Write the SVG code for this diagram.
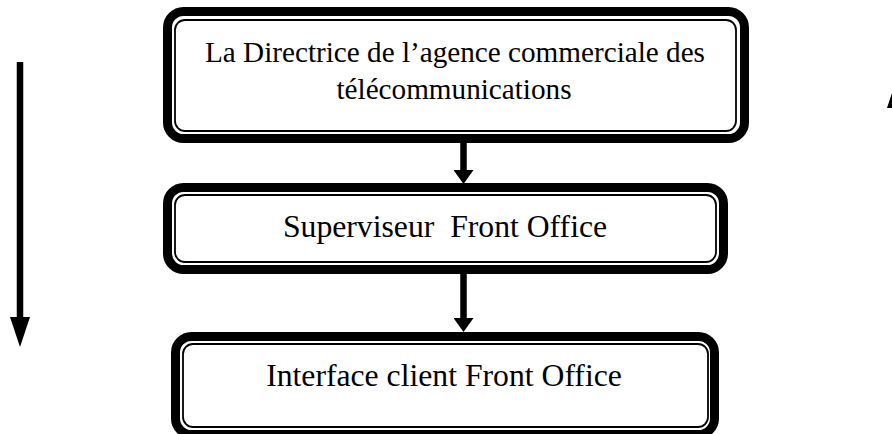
<svg xmlns="http://www.w3.org/2000/svg" width="892" height="434" viewBox="0 0 892 434">
<style>
  .thick { fill: #ffffff; stroke: #000000; stroke-width: 9; }
  .thin { fill: none; stroke: #000000; stroke-width: 1.8; }
  .lbl { font-family: "Liberation Serif", "Times New Roman", serif; fill: #000000; text-anchor: middle; white-space: pre; }
  .shaft { fill: none; stroke: #000000; stroke-width: 6.5; }
</style>
<defs>
  <marker id="headS" markerUnits="userSpaceOnUse" viewBox="0 0 14 20" markerWidth="14" markerHeight="20" refX="0" refY="10" orient="auto">
    <polygon points="0,0 14,10 0,20" fill="#000000"/>
  </marker>
  <marker id="headL" markerUnits="userSpaceOnUse" viewBox="0 0 30 20" markerWidth="30" markerHeight="20" refX="0" refY="10" orient="auto">
    <polygon points="0,0 30,10 0,20" fill="#000000"/>
  </marker>
</defs>
<rect width="892" height="434" fill="#ffffff"/>

<g id="connectors">
  <path class="shaft" d="M463.5 128 L463.5 170" marker-end="url(#headS)"/>
  <path class="shaft" d="M463.5 272 L463.5 318" marker-end="url(#headS)"/>
  <path class="shaft" d="M20 62 L20 317" marker-end="url(#headL)"/>
  <path class="shaft" d="M897 300 L897 108" marker-end="url(#headL)"/>
</g>

<g id="node-directrice">
  <rect class="thick" x="167.5" y="11.5" width="577" height="127" rx="16"/>
  <rect class="thin" x="175" y="20" width="561" height="111" rx="10"/>
  <text class="lbl" x="455" y="62" font-size="29.2">La Directrice de l’agence commerciale des</text>
  <text class="lbl" x="454" y="99" font-size="29.2">télécommunications</text>
</g>

<g id="node-superviseur">
  <rect class="thick" x="167.5" y="187.5" width="556" height="82" rx="16"/>
  <rect class="thin" x="175" y="195" width="541" height="67" rx="10"/>
  <text class="lbl" x="445" y="237" font-size="31.7">Superviseur  Front Office</text>
</g>

<g id="node-interface">
  <rect class="thick" x="175.5" y="336.5" width="539" height="98" rx="16"/>
  <rect class="thin" x="183" y="344" width="525" height="83" rx="10"/>
  <text class="lbl" x="444" y="386" font-size="31.7">Interface client Front Office</text>
</g>
</svg>
